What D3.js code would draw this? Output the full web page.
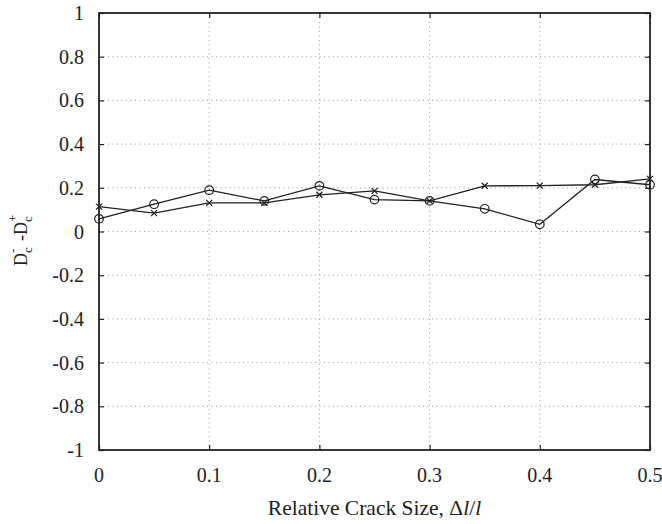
<!DOCTYPE html>
<html>
<head>
<style>
  body { margin: 0; background: #fff; }
</style>
</head>
<body>
<div id="vizDiv"></div>
<script src="https://d3js.org/d3.v7.min.js"></script>
<script>
// data
const crackSize = [0, 0.05, 0.1, 0.15, 0.2, 0.25, 0.3, 0.35, 0.4, 0.45, 0.5];
const circleSeries = [0.058, 0.125, 0.189, 0.140, 0.209, 0.146, 0.140, 0.104, 0.033, 0.238, 0.214];
const crossSeries = [0.114, 0.084, 0.131, 0.131, 0.168, 0.186, 0.140, 0.209, 0.210, 0.214, 0.241];
const xTicks = [0, 0.1, 0.2, 0.3, 0.4, 0.5];
const yTicks = [-1, -0.8, -0.6, -0.4, -0.2, 0, 0.2, 0.4, 0.6, 0.8, 1];

const W = 662, H = 524;
const pLeft = 99, pRight = 650, pTop = 13, pBottom = 450;
const serif = "'Liberation Serif', 'Times New Roman', Times, 'DejaVu Serif', serif";

const svg = d3.select("#vizDiv")
    .append("svg")
    .attr("width", W)
    .attr("height", H)
    .style("font-family", serif)
    .attr("font-family", serif);

const x = d3.scaleLinear().domain([0, 0.5]).range([pLeft, pRight]);
const y = d3.scaleLinear().domain([-1, 1]).range([pBottom, pTop]);

// dotted grid
svg.append("g")
    .selectAll("line")
    .data(xTicks.slice(1, -1))
    .join("line")
    .attr("x1", d => x(d)).attr("x2", d => x(d))
    .attr("y1", pTop).attr("y2", pBottom)
    .attr("stroke", "#999").attr("stroke-width", 1)
    .attr("stroke-dasharray", "1,3.5");

svg.append("g")
    .selectAll("line")
    .data(yTicks.slice(1, -1))
    .join("line")
    .attr("x1", pLeft).attr("x2", pRight)
    .attr("y1", d => y(d)).attr("y2", d => y(d))
    .attr("stroke", "#999").attr("stroke-width", 1)
    .attr("stroke-dasharray", "1,3.5");

// axes: inward ticks on all four sides
const axB = svg.append("g").attr("transform", `translate(0,${pBottom})`)
    .call(d3.axisTop(x).tickValues(xTicks).tickSize(5).tickFormat(""));
const axT = svg.append("g").attr("transform", `translate(0,${pTop})`)
    .call(d3.axisBottom(x).tickValues(xTicks).tickSize(5).tickFormat(""));
const axL = svg.append("g").attr("transform", `translate(${pLeft},0)`)
    .call(d3.axisRight(y).tickValues(yTicks).tickSize(5).tickFormat(""));
const axR = svg.append("g").attr("transform", `translate(${pRight},0)`)
    .call(d3.axisLeft(y).tickValues(yTicks).tickSize(5).tickFormat(""));
[axB, axT, axL, axR].forEach(a => {
    a.select(".domain").remove();
    a.selectAll("line").attr("stroke", "#222").attr("stroke-width", 1.2);
});

// frame
svg.append("rect")
    .attr("x", pLeft).attr("y", pTop)
    .attr("width", pRight - pLeft).attr("height", pBottom - pTop)
    .attr("fill", "none").attr("stroke", "#222").attr("stroke-width", 1.8);

// tick labels
svg.append("g")
    .selectAll("text")
    .data(xTicks)
    .join("text")
    .attr("x", d => x(d)).attr("y", 482)
    .attr("text-anchor", "middle")
    .attr("font-size", 20)
    .attr("fill", "#222")
    .text(d => d);

svg.append("g")
    .selectAll("text")
    .data(yTicks)
    .join("text")
    .attr("x", 84).attr("y", d => y(d) + 7)
    .attr("text-anchor", "end")
    .attr("font-size", 20)
    .attr("fill", "#222")
    .text(d => d);

// series lines + markers
const line = d3.line().x((d, i) => x(crackSize[i])).y(d => y(d));

svg.append("path").datum(circleSeries)
    .attr("d", line).attr("fill", "none")
    .attr("stroke", "#222").attr("stroke-width", 1.3);
svg.append("path").datum(crossSeries)
    .attr("d", line).attr("fill", "none")
    .attr("stroke", "#222").attr("stroke-width", 1.3);

svg.append("g")
    .selectAll("circle")
    .data(circleSeries)
    .join("circle")
    .attr("cx", (d, i) => x(crackSize[i])).attr("cy", d => y(d))
    .attr("r", 4.3)
    .attr("fill", "none").attr("stroke", "#222").attr("stroke-width", 1.2);

svg.append("g")
    .selectAll("path")
    .data(crossSeries)
    .join("path")
    .attr("transform", (d, i) => `translate(${x(crackSize[i])},${y(d)})`)
    .attr("d", "M-3,-3L3,3M-3,3L3,-3")
    .attr("stroke", "#222").attr("stroke-width", 1.3);

// x title
const xt = svg.append("text")
    .attr("x", (pLeft + pRight) / 2).attr("y", 515)
    .attr("text-anchor", "middle")
    .attr("font-size", 21.5)
    .attr("fill", "#222");
xt.append("tspan").text("Relative Crack Size, \u0394");
xt.append("tspan").attr("font-style", "italic").text("l");
xt.append("tspan").text("/");
xt.append("tspan").attr("font-style", "italic").text("l");

// y title: D_c^- -D_c^+ (rotated)
const yt = svg.append("g").attr("transform", "translate(27,266) rotate(-90)")
    .attr("fill", "#222");
yt.append("text").attr("x", 0).attr("y", 0).attr("font-size", 18).text("D");
yt.append("text").attr("x", 13).attr("y", 5).attr("font-size", 13).text("c");
yt.append("text").attr("x", 13).attr("y", -10).attr("font-size", 13).text("-");
yt.append("text").attr("x", 25).attr("y", 0).attr("font-size", 18).text("-D");
yt.append("text").attr("x", 44).attr("y", 5).attr("font-size", 13).text("c");
yt.append("text").attr("x", 44).attr("y", -10).attr("font-size", 13).text("+");
</script>
</body>
</html>
